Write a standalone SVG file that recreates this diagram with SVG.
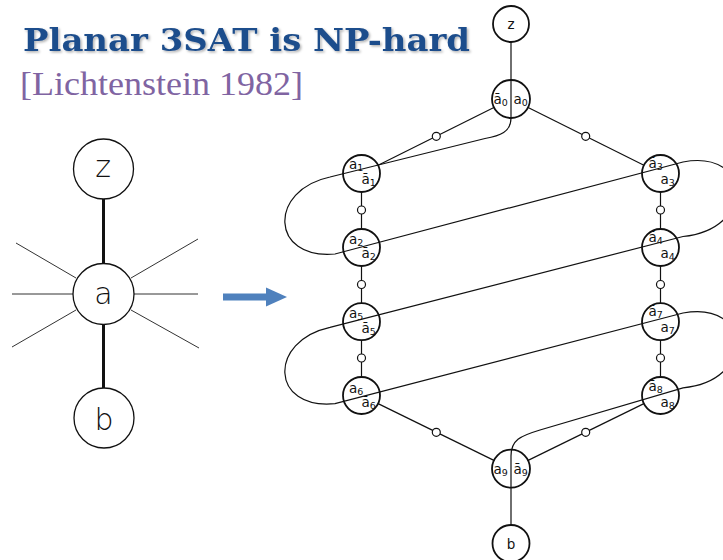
<svg xmlns="http://www.w3.org/2000/svg" width="723" height="560" viewBox="0 0 723 560">
<defs>
<filter id="sh" x="-5%" y="-30%" width="110%" height="160%"><feDropShadow dx="1.5" dy="1.5" stdDeviation="1" flood-color="#000" flood-opacity="0.3"/></filter>
</defs>
<style>
.n{fill:none;stroke:#111;stroke-width:1.8}
.s{fill:#fff;stroke:#111;stroke-width:1.2}
.e{fill:none;stroke:#111;stroke-width:1.2}
.lbl{font-family:"DejaVu Sans","Liberation Sans",sans-serif;font-size:13.5px;fill:#111}
.sub{font-size:9.5px}
.big{font-family:"DejaVu Sans","Liberation Sans",sans-serif;font-weight:200;font-size:30px;fill:#111;text-anchor:middle}
.ln{fill:#fff;stroke:#111;stroke-width:1.3}
.spoke{stroke:#333;stroke-width:1}
.thick{stroke:#111;stroke-width:3}
</style>
<rect width="723" height="560" fill="#fff"/>
<g id="title">
<text x="23" y="51" font-family="DejaVu Serif,Liberation Serif,serif" font-weight="bold" font-size="32" fill="#1F4E8C" textLength="447" lengthAdjust="spacingAndGlyphs" filter="url(#sh)">Planar 3SAT is NP-hard</text>
<text x="20" y="95" font-family="Liberation Serif,DejaVu Serif,serif" font-size="33" fill="#8064A2" textLength="283" lengthAdjust="spacingAndGlyphs">[Lichtenstein 1982]</text>
</g>
<g id="left-connectors">
<line class="thick" x1="103.5" y1="199" x2="103.5" y2="263"/>
<line class="thick" x1="103.5" y1="324" x2="103.5" y2="388"/>
<line class="spoke" x1="16" y1="243" x2="76" y2="278"/>
<line class="spoke" x1="12" y1="294" x2="73" y2="294"/>
<line class="spoke" x1="12" y1="347" x2="76" y2="310"/>
<line class="spoke" x1="131" y1="278" x2="198" y2="239"/>
<line class="spoke" x1="134" y1="294" x2="198" y2="294"/>
<line class="spoke" x1="131" y1="310" x2="199" y2="348"/>
</g>
<g id="left-z"><circle class="ln" cx="103.5" cy="169" r="30"/><text class="big" x="103" y="177">z</text></g>
<g id="left-a"><circle class="ln" cx="103.5" cy="294" r="30.5"/><text class="big" x="103.5" y="304">a</text></g>
<g id="left-b"><circle class="ln" cx="104" cy="418" r="30"/><text class="big" x="104" y="430">b</text></g>
<g id="arrow">
<rect x="223" y="293.5" width="45" height="7" fill="#4F81BD"/>
<polygon points="266,287.5 287,297 266,306.5" fill="#4F81BD"/>
</g>
<g id="connectors">
<line class="e" x1="494.4" y1="107.3" x2="378.1" y2="165.3"/>
<line class="e" x1="527.6" y1="107.3" x2="643.9" y2="165.3"/>
<line class="e" x1="361.5" y1="192" x2="361.5" y2="229"/>
<line class="e" x1="361.5" y1="266" x2="361.5" y2="303.2"/>
<line class="e" x1="361.5" y1="340.2" x2="361.5" y2="377"/>
<line class="e" x1="660.5" y1="192" x2="660.5" y2="229"/>
<line class="e" x1="660.5" y1="266" x2="660.5" y2="303.2"/>
<line class="e" x1="660.5" y1="340.2" x2="660.5" y2="377"/>
<line class="e" x1="378.1" y1="403.6" x2="494.4" y2="460.6"/>
<line class="e" x1="643.9" y1="403.6" x2="527.6" y2="460.6"/>
<path class="e" d="M511 42 L511 118 C511 132 500 136 485 138.5 L330 177 C268 190 270 260 335 254 L683 162 C752 149 756 229 683 236.5 L330 327.4 C268 341 270 410 335 403.7 L683 313 C752 300 756 381 683 387.8 L540 430 C520 436 511 440 511 456 L511 525"/>
</g>
<g id="c1"><circle class="s" cx="436.3" cy="136.3" r="4"/></g>
<g id="c2"><circle class="s" cx="585.7" cy="136.3" r="4"/></g>
<g id="c3"><circle class="s" cx="361.5" cy="210" r="4"/></g>
<g id="c4"><circle class="s" cx="361.5" cy="284.5" r="4"/></g>
<g id="c5"><circle class="s" cx="361.5" cy="358" r="4"/></g>
<g id="c6"><circle class="s" cx="660.5" cy="210" r="4"/></g>
<g id="c7"><circle class="s" cx="660.5" cy="284.5" r="4"/></g>
<g id="c8"><circle class="s" cx="660.5" cy="358" r="4"/></g>
<g id="c9"><circle class="s" cx="436.3" cy="432.3" r="4"/></g>
<g id="c10"><circle class="s" cx="585.7" cy="432.3" r="4"/></g>
<g id="z"><circle class="n" cx="511" cy="24" r="18"/><text class="lbl" x="511" y="28.5" text-anchor="middle" font-size="12">z</text></g>
<g id="a0"><circle class="n" cx="511" cy="99" r="19"/><text class="lbl" x="493.5" y="104">ā<tspan class="sub" dy="2">0</tspan></text><text class="lbl" x="513.5" y="104">a<tspan class="sub" dy="2">0</tspan></text></g>
<g id="a1"><circle class="n" cx="361.5" cy="173.5" r="18.5"/><text class="lbl" x="349" y="169">a<tspan class="sub" dy="2">1</tspan></text><text class="lbl" x="361.5" y="183.5">ā<tspan class="sub" dy="2">1</tspan></text></g>
<g id="a2"><circle class="n" cx="361.5" cy="247.5" r="18.5"/><text class="lbl" x="349" y="244">a<tspan class="sub" dy="2">2</tspan></text><text class="lbl" x="361.5" y="257.5">ā<tspan class="sub" dy="2">2</tspan></text></g>
<g id="a5"><circle class="n" cx="361.5" cy="321.7" r="18.5"/><text class="lbl" x="349" y="318">a<tspan class="sub" dy="2">5</tspan></text><text class="lbl" x="361.5" y="332.5">ā<tspan class="sub" dy="2">5</tspan></text></g>
<g id="a6"><circle class="n" cx="361.5" cy="395.5" r="18.5"/><text class="lbl" x="349" y="393">a<tspan class="sub" dy="2">6</tspan></text><text class="lbl" x="361.5" y="406.5">ā<tspan class="sub" dy="2">6</tspan></text></g>
<g id="a3"><circle class="n" cx="660.5" cy="173.5" r="18.5"/><text class="lbl" x="648.5" y="168">ā<tspan class="sub" dy="2">3</tspan></text><text class="lbl" x="660.5" y="183.5">a<tspan class="sub" dy="2">3</tspan></text></g>
<g id="a4"><circle class="n" cx="660.5" cy="247.5" r="18.5"/><text class="lbl" x="648.5" y="242">ā<tspan class="sub" dy="2">4</tspan></text><text class="lbl" x="660.5" y="257.5">a<tspan class="sub" dy="2">4</tspan></text></g>
<g id="a7"><circle class="n" cx="660.5" cy="321.7" r="18.5"/><text class="lbl" x="648.5" y="316">ā<tspan class="sub" dy="2">7</tspan></text><text class="lbl" x="660.5" y="331.5">a<tspan class="sub" dy="2">7</tspan></text></g>
<g id="a8"><circle class="n" cx="660.5" cy="395.5" r="18.5"/><text class="lbl" x="648.5" y="391">ā<tspan class="sub" dy="2">8</tspan></text><text class="lbl" x="660.5" y="406.5">a<tspan class="sub" dy="2">8</tspan></text></g>
<g id="a9"><circle class="n" cx="511" cy="468.7" r="19"/><text class="lbl" x="493.5" y="474">a<tspan class="sub" dy="2">9</tspan></text><text class="lbl" x="513.5" y="474">ā<tspan class="sub" dy="2">9</tspan></text></g>
<g id="b"><circle class="n" cx="511" cy="543.5" r="18.5"/><text class="lbl" x="511" y="548.5" text-anchor="middle" font-size="14.5">b</text></g>
</svg>
